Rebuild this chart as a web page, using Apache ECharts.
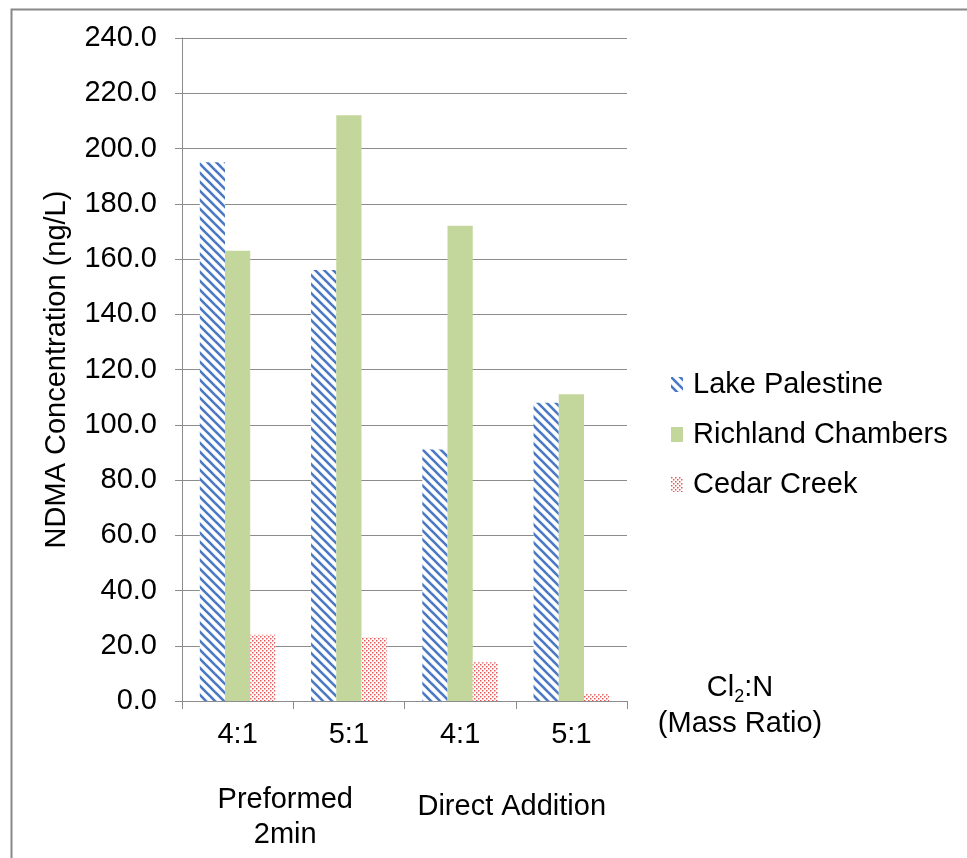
<!DOCTYPE html>
<html>
<head>
<meta charset="utf-8">
<script src="https://cdn.jsdelivr.net/npm/echarts@6/dist/echarts.min.js"></script>
<style>
  html, body { margin: 0; padding: 0; background: #fff; }
  #chart { width: 967px; height: 858px; }
</style>
</head>
<body>
<div id="chart"></div>
<script>
// Chart data
const ratios = ['4:1', '5:1', '4:1', '5:1'];
const methods = ['Preformed\n2min', 'Direct Addition'];
const lakePalestine = [195, 156, 91, 108];
const richlandChambers = [163, 212, 172, 111];
const cedarCreek = [24, 23, 14, 2.5];

// Fill patterns
function stripePattern() {
  const c = document.createElement('canvas');
  c.width = 9; c.height = 9;
  const g = c.getContext('2d');
  g.fillStyle = '#ffffff';
  g.fillRect(0, 0, 9, 9);
  g.strokeStyle = '#4a78c4';
  g.lineWidth = 2.6;
  for (const o of [-9, 0, 9]) {
    g.beginPath();
    g.moveTo(o - 1, -1);
    g.lineTo(o + 10, 10);
    g.stroke();
  }
  return c;
}
function dotPattern() {
  const c = document.createElement('canvas');
  c.width = 4; c.height = 4;
  const g = c.getContext('2d');
  g.fillStyle = '#ffffff';
  g.fillRect(0, 0, 4, 4);
  g.fillStyle = '#e85a5a';
  g.fillRect(0, 0, 1.5, 1.5);
  g.fillRect(2, 2, 1.5, 1.5);
  return c;
}

const font = 'Liberation Sans, Arial, sans-serif';
const gray = '#8c8c8c';
const fs = 29;

const chart = echarts.init(document.getElementById('chart'));
chart.setOption({
  backgroundColor: '#ffffff',
  animation: false,
  textStyle: { fontFamily: font, color: '#000' },
  graphic: [{
    type: 'rect',
    left: 9, top: 7,
    shape: { width: 1000, height: 900 },
    style: { fill: 'none', stroke: '#888', lineWidth: 2 },
    silent: true
  }],
  grid: { left: 182, top: 38, right: 340, bottom: 157 },
  legend: {
    orient: 'vertical',
    left: 666,
    top: 365,
    icon: 'rect',
    itemWidth: 12,
    itemHeight: 15,
    itemGap: 21,
    textStyle: { fontFamily: font, fontSize: fs, color: '#000', padding: [0, 0, 0, 5] },
    data: ['Lake Palestine', 'Richland Chambers', 'Cedar Creek']
  },
  xAxis: [{
    type: 'category',
    data: ratios,
    position: 'bottom',
    name: 'Cl{sub|2}:N\n(Mass Ratio)',
    nameLocation: 'end',
    nameGap: 113,
    nameTextStyle: {
      fontFamily: font, fontSize: fs, color: '#000', align: 'center', verticalAlign: 'middle',
      lineHeight: 36, padding: [10, 0, 0, 0],
      rich: { sub: { fontFamily: font, fontSize: 18, verticalAlign: 'bottom', padding: [12, 0, 0, 0], lineHeight: 36 } }
    },
    axisLine: { show: true, lineStyle: { color: gray, width: 1 } },
    axisTick: { show: true, length: 8, lineStyle: { color: gray } },
    axisLabel: { fontSize: fs, color: '#000', margin: 19, interval: 0 },
    splitLine: { show: false }
  }, {
    type: 'category',
    data: [
      { value: methods[0], textStyle: { padding: [0, 16, 0, 0] } },
      { value: methods[1], textStyle: { padding: [7, 8, 0, 0] } }
    ],
    position: 'bottom',
    axisLine: { show: false },
    axisTick: { show: false },
    axisLabel: { fontSize: fs, color: '#000', margin: 81, lineHeight: 35, interval: 0 },
    splitLine: { show: false }
  }],
  yAxis: {
    type: 'value',
    min: 0, max: 240, interval: 20,
    name: 'NDMA Concentration (ng/L)',
    nameLocation: 'middle',
    nameGap: 111,
    nameTextStyle: { fontFamily: font, fontSize: fs, color: '#000' },
    axisLine: { show: true, lineStyle: { color: gray, width: 1 } },
    axisTick: { show: true, length: 7, lineStyle: { color: gray } },
    axisLabel: { fontSize: fs, color: '#000', margin: 25, formatter: v => v.toFixed(1) },
    splitLine: { show: true, lineStyle: { color: gray, width: 1 } }
  },
  series: [{
    name: 'Lake Palestine',
    type: 'bar',
    data: lakePalestine,
    barGap: '0%',
    barCategoryGap: '32%',
    itemStyle: { color: { image: stripePattern(), repeat: 'repeat' } }
  }, {
    name: 'Richland Chambers',
    type: 'bar',
    data: richlandChambers,
    barGap: '0%',
    barCategoryGap: '32%',
    itemStyle: { color: '#c3d69b' }
  }, {
    name: 'Cedar Creek',
    type: 'bar',
    data: cedarCreek,
    barGap: '0%',
    barCategoryGap: '32%',
    itemStyle: { color: { image: dotPattern(), repeat: 'repeat' } }
  }]
});
</script>
</body>
</html>
